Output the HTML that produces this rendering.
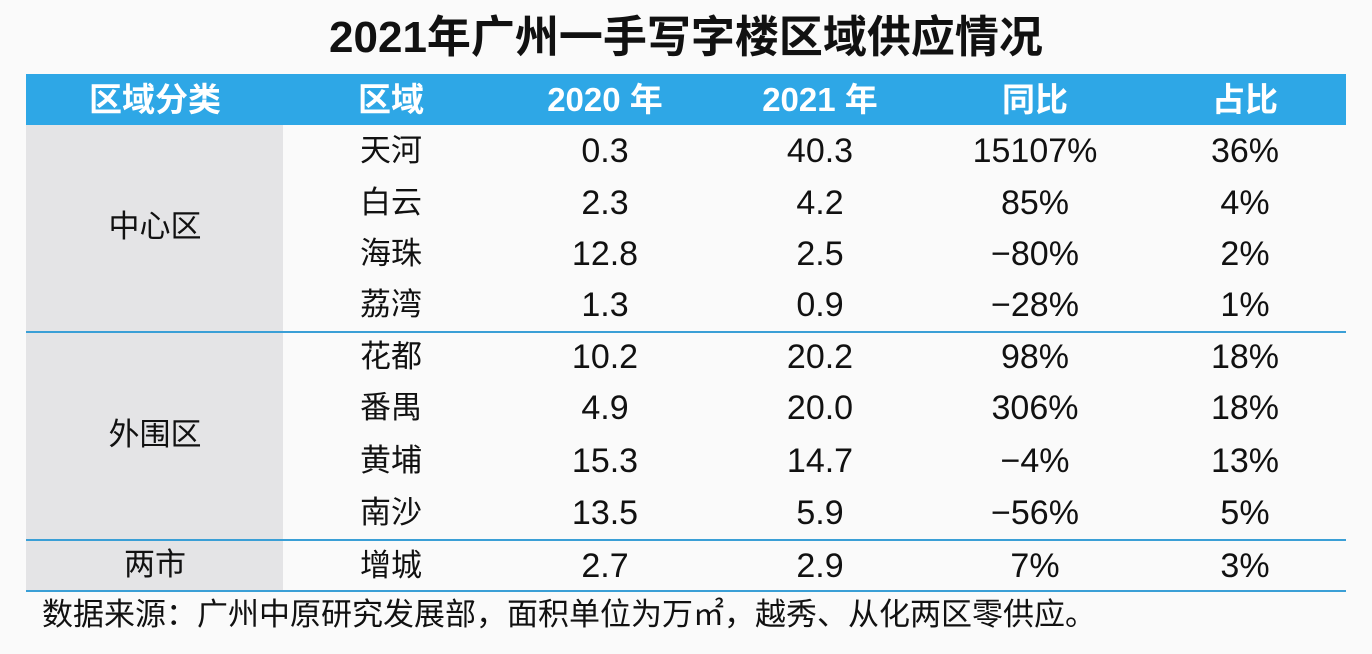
<!DOCTYPE html>
<html><head><meta charset="utf-8"><style>
body{margin:0;width:1372px;height:654px;background:#fafafa;position:relative;overflow:hidden;font-family:"Liberation Sans","Noto Sans CJK SC",sans-serif;color:#111}
.t{position:absolute;left:0;width:1372px;top:10px;text-align:center;font-size:44px;font-weight:bold;line-height:56px}
.hd{position:absolute;left:26px;top:74px;width:1320px;height:51px;background:#2ea7e6}
.gray{position:absolute;left:26px;top:125px;width:257px;height:467px;background:#e4e4e6}
.ln{position:absolute;left:26px;width:1320px;height:2px;background:#3a9fd6}
.c{position:absolute;text-align:center;line-height:52px;font-size:31px;transform:translateX(-50%);white-space:nowrap}
.h{color:#fff;font-weight:bold;font-size:33px;line-height:51px}
.n{font-family:"Liberation Sans Narrow","Liberation Sans",sans-serif;font-size:34px}
.f{position:absolute;left:42px;top:594px;font-size:31px;line-height:42px}
</style></head><body>
<div class="t">2021年广州一手写字楼区域供应情况</div>
<div class="hd"></div>
<div class="gray"></div>
<div class="ln" style="top:331px"></div>
<div class="ln" style="top:539px"></div>
<div class="ln" style="top:590px"></div>
<div class="c h" style="left:155px;top:74px">区域分类</div>
<div class="c h" style="left:391px;top:74px">区域</div>
<div class="c h" style="left:605px;top:74px">2020 年</div>
<div class="c h" style="left:820px;top:74px">2021 年</div>
<div class="c h" style="left:1035px;top:74px">同比</div>
<div class="c h" style="left:1245px;top:74px">占比</div>
<div class="c" style="left:155px;top:201px">中心区</div>
<div class="c" style="left:155px;top:409px">外围区</div>
<div class="c" style="left:155px;top:539px">两市</div>
<div class="c" style="left:391px;top:125px">天河</div><div class="c n" style="left:605px;top:125px">0.3</div><div class="c n" style="left:820px;top:125px">40.3</div><div class="c n" style="left:1035px;top:125px">15107%</div><div class="c n" style="left:1245px;top:125px">36%</div>
<div class="c" style="left:391px;top:177px">白云</div><div class="c n" style="left:605px;top:177px">2.3</div><div class="c n" style="left:820px;top:177px">4.2</div><div class="c n" style="left:1035px;top:177px">85%</div><div class="c n" style="left:1245px;top:177px">4%</div>
<div class="c" style="left:391px;top:228px">海珠</div><div class="c n" style="left:605px;top:228px">12.8</div><div class="c n" style="left:820px;top:228px">2.5</div><div class="c n" style="left:1035px;top:228px">−80%</div><div class="c n" style="left:1245px;top:228px">2%</div>
<div class="c" style="left:391px;top:279px">荔湾</div><div class="c n" style="left:605px;top:279px">1.3</div><div class="c n" style="left:820px;top:279px">0.9</div><div class="c n" style="left:1035px;top:279px">−28%</div><div class="c n" style="left:1245px;top:279px">1%</div>
<div class="c" style="left:391px;top:331px">花都</div><div class="c n" style="left:605px;top:331px">10.2</div><div class="c n" style="left:820px;top:331px">20.2</div><div class="c n" style="left:1035px;top:331px">98%</div><div class="c n" style="left:1245px;top:331px">18%</div>
<div class="c" style="left:391px;top:382px">番禺</div><div class="c n" style="left:605px;top:382px">4.9</div><div class="c n" style="left:820px;top:382px">20.0</div><div class="c n" style="left:1035px;top:382px">306%</div><div class="c n" style="left:1245px;top:382px">18%</div>
<div class="c" style="left:391px;top:435px">黄埔</div><div class="c n" style="left:605px;top:435px">15.3</div><div class="c n" style="left:820px;top:435px">14.7</div><div class="c n" style="left:1035px;top:435px">−4%</div><div class="c n" style="left:1245px;top:435px">13%</div>
<div class="c" style="left:391px;top:487px">南沙</div><div class="c n" style="left:605px;top:487px">13.5</div><div class="c n" style="left:820px;top:487px">5.9</div><div class="c n" style="left:1035px;top:487px">−56%</div><div class="c n" style="left:1245px;top:487px">5%</div>
<div class="c" style="left:391px;top:540px">增城</div><div class="c n" style="left:605px;top:540px">2.7</div><div class="c n" style="left:820px;top:540px">2.9</div><div class="c n" style="left:1035px;top:540px">7%</div><div class="c n" style="left:1245px;top:540px">3%</div>
<div class="f">数据来源：广州中原研究发展部，面积单位为万㎡，越秀、从化两区零供应。</div>
</body></html>
